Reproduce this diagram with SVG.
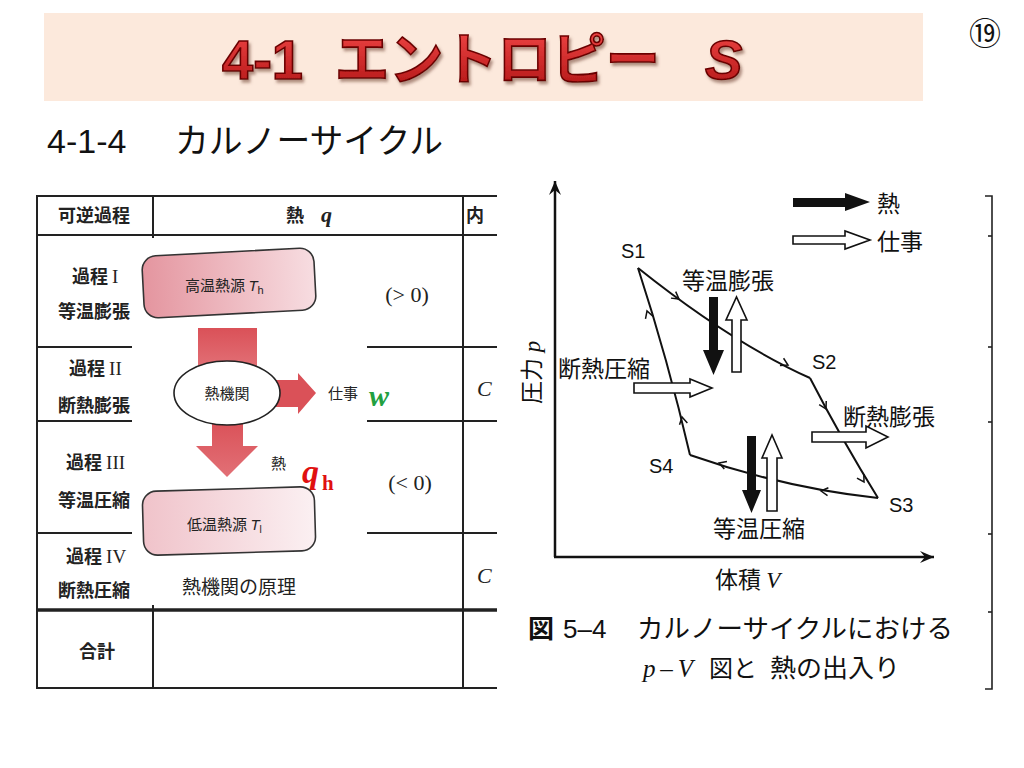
<svg xmlns="http://www.w3.org/2000/svg" xmlns:xlink="http://www.w3.org/1999/xlink" width="1024" height="768" viewBox="0 0 1024 768">
<style>
.jp{font-family:"Liberation Sans","Noto Sans CJK JP",sans-serif;}
.tb{font-family:"Noto Sans CJK JP",sans-serif;font-weight:bold;font-size:18px;fill:#222;}
.rm{font-family:"Liberation Serif",serif;font-size:22px;fill:#222;}
.ln{stroke:#222;stroke-width:2;fill:none;}
.he{font-family:"Noto Sans CJK JP",sans-serif;font-size:15px;fill:#222;}
.pv{font-family:"Noto Sans CJK JP",sans-serif;font-size:23px;fill:#111;}
.sl{font-family:"Liberation Sans",sans-serif;font-size:20px;fill:#111;}
.cyc{stroke:#111;stroke-width:2;fill:none;}
.chev{stroke:#111;stroke-width:1.5;fill:none;}
.blk{fill:#111;}
.wht{fill:#fff;stroke:#111;stroke-width:1.6;}
.ttl{font-family:"Liberation Sans","Noto Sans CJK JP",sans-serif;font-weight:bold;font-size:56px;fill:url(#tg);stroke:#6a0000;stroke-width:1.6;}
</style>
<defs>
<linearGradient id="tg" x1="0" y1="0" x2="0" y2="1">
<stop offset="0" stop-color="#F04545"/>
<stop offset="1" stop-color="#B01515"/>
</linearGradient>
<linearGradient id="hot" x1="0" y1="0" x2="1" y2="0">
<stop offset="0" stop-color="#E4959F"/>
<stop offset="1" stop-color="#F7DDE1"/>
</linearGradient>
<linearGradient id="cold" x1="0" y1="0" x2="1" y2="0">
<stop offset="0" stop-color="#F0C3CA"/>
<stop offset="1" stop-color="#FBF0F2"/>
</linearGradient>
<linearGradient id="flow" x1="0" y1="0" x2="0" y2="1">
<stop offset="0" stop-color="#DA5158"/>
<stop offset="1" stop-color="#E27076"/>
</linearGradient>
<filter id="sh" x="-10%" y="-10%" width="120%" height="130%">
<feDropShadow dx="2" dy="3" stdDeviation="1.5" flood-color="#7a5040" flood-opacity="0.6"/>
</filter>
<clipPath id="tclip"><rect x="0" y="180" width="497" height="520"/></clipPath>
<path id="chv" d="M-7,-4 L0,0 L-7,4"/>
<marker id="axh" viewBox="-14 -7 15 14" refX="0" refY="0" markerWidth="15" markerHeight="14" markerUnits="userSpaceOnUse" orient="auto">
<path d="M0,0 L-14,-6 L-9,0 L-14,6 Z" fill="#111"/>
</marker>
</defs>

<rect width="1024" height="768" fill="#fff"/>

<g id="title">
<rect x="44" y="13" width="879" height="88" fill="#FCE9DC"/>
<g filter="url(#sh)">
<text class="ttl" x="222" y="79">4-1</text>
<text class="ttl" x="335" y="79" textLength="325" lengthAdjust="spacingAndGlyphs">エントロピー</text>
<text class="ttl" x="705" y="79" font-style="italic">S</text>
</g>
</g>
<text id="page-num" x="969" y="45" font-family="Noto Sans CJK JP, sans-serif" font-size="32" fill="#111">⑲</text>

<g id="subtitle">
<text class="jp" x="47" y="153" font-size="34" fill="#111">4-1-4</text>
<text class="jp" x="175" y="153" font-size="34" fill="#111" textLength="268" lengthAdjust="spacingAndGlyphs">カルノーサイクル</text>
</g>

<g id="table" clip-path="url(#tclip)">
<g class="ln">
<line x1="37" y1="196" x2="500" y2="196"/>
<line x1="37" y1="195" x2="37" y2="689"/>
<line x1="37" y1="235" x2="500" y2="235"/>
<line x1="153" y1="196" x2="153" y2="238"/>
<line x1="153" y1="605" x2="153" y2="688"/>
<line x1="463" y1="196" x2="463" y2="688"/>
<line x1="37" y1="347" x2="132" y2="347"/><line x1="367" y1="347" x2="500" y2="347"/>
<line x1="37" y1="421" x2="132" y2="421"/><line x1="367" y1="421" x2="500" y2="421"/>
<line x1="37" y1="533" x2="132" y2="533"/><line x1="367" y1="533" x2="500" y2="533"/>
<line x1="37" y1="610" x2="500" y2="610" stroke-width="3.5"/>
<line x1="37" y1="688" x2="500" y2="688"/>
</g>
<text class="tb" x="58" y="222">可逆過程</text>
<text class="tb" x="286" y="222">熱</text>
<text class="rm" x="321" y="222" font-size="18" font-weight="bold" font-style="italic">q</text>
<text class="tb" x="466" y="222">内</text>
<text class="tb" x="72" y="283">過程 <tspan font-family="Liberation Serif, serif" font-weight="normal" font-size="19">I</tspan></text>
<text class="tb" x="58" y="318">等温膨張</text>
<text class="tb" x="69" y="375">過程 <tspan font-family="Liberation Serif, serif" font-weight="normal" font-size="19">II</tspan></text>
<text class="tb" x="58" y="412">断熱膨張</text>
<text class="tb" x="66" y="469">過程 <tspan font-family="Liberation Serif, serif" font-weight="normal" font-size="19">III</tspan></text>
<text class="tb" x="58" y="507">等温圧縮</text>
<text class="tb" x="66" y="563">過程 <tspan font-family="Liberation Serif, serif" font-weight="normal" font-size="19">IV</tspan></text>
<text class="tb" x="58" y="597">断熱圧縮</text>
<text class="tb" x="79" y="658">合計</text>
<text class="rm" x="407" y="302" text-anchor="middle">(&gt; 0)</text>
<text class="rm" x="410" y="490" text-anchor="middle">(&lt; 0)</text>
<text class="rm" x="477" y="396" font-style="italic" font-size="24">C</text>
<text class="rm" x="477" y="583" font-style="italic" font-size="24">C</text>
<rect x="133" y="239" width="233" height="366" fill="#fff"/>
</g>

<g id="heat-engine">
<g id="hot-source">
<rect x="143" y="252" width="172" height="62" rx="14" fill="url(#hot)" stroke="#333" stroke-width="1.6" transform="rotate(-3 229 283)"/>
<text class="he" x="185" y="291">高温熱源 <tspan font-family="Liberation Sans, sans-serif" font-style="italic">T</tspan><tspan font-family="Liberation Sans, sans-serif" font-size="11" dy="3">h</tspan></text>
</g>
<rect x="198" y="328" width="59" height="40" fill="url(#flow)"/>
<path d="M212,420 L243,420 L243,446 L258,446 L227,477 L196,446 L212,446 Z" fill="url(#flow)"/>
<path d="M272,380 L298,380 L298,373 L316,393 L298,414 L298,407 L272,407 Z" fill="#DA5158"/>
<g id="engine">
<ellipse cx="227" cy="393" rx="53" ry="32" fill="#fff" stroke="#222" stroke-width="1.6"/>
<text class="he" x="227" y="399" text-anchor="middle">熱機関</text>
</g>
<text class="he" x="328" y="399">仕事</text>
<text x="369" y="406" font-family="Liberation Serif, serif" font-style="italic" font-weight="bold" font-size="30" fill="#22A040">w</text>
<text class="he" x="271" y="469">熱</text>
<text x="302" y="483" font-family="Liberation Serif, serif" font-style="italic" font-weight="bold" font-size="34" fill="#E01010">q</text>
<text x="322" y="490" font-family="Liberation Serif, serif" font-weight="bold" font-size="21" fill="#E01010">h</text>
<g id="cold-source">
<rect x="143" y="489" width="172" height="64" rx="14" fill="url(#cold)" stroke="#333" stroke-width="1.6" transform="rotate(-1.7 229 521)"/>
<text class="he" x="187" y="530" font-size="14">低温熱源 <tspan font-family="Liberation Sans, sans-serif" font-style="italic">T</tspan><tspan font-family="Liberation Sans, sans-serif" font-size="10" dy="3">l</tspan></text>
</g>
<text x="182" y="594" font-family="Noto Sans CJK JP, sans-serif" font-size="19" fill="#222">熱機関の原理</text>
</g>

<g id="pv-diagram">
<g id="axes">
<line x1="555" y1="557" x2="555" y2="181" stroke="#111" stroke-width="2.5" marker-end="url(#axh)"/>
<line x1="554" y1="557" x2="934" y2="557" stroke="#111" stroke-width="2.5" marker-end="url(#axh)"/>
<text class="pv" transform="translate(540 404) rotate(-90)" font-size="22">圧力<tspan font-family="Liberation Serif, serif" font-style="italic"> p</tspan></text>
<text class="pv" x="715" y="588" font-size="22">体積 <tspan font-family="Liberation Serif, serif" font-style="italic">V</tspan></text>
</g>
<g id="legend">
<path class="blk" d="M793,198 L845,198 L845,193 L870,202 L845,211 L845,207 L793,207 Z"/>
<text class="pv" x="877" y="212">熱</text>
<path class="wht" d="M793,236 L845,236 L845,231 L870,240 L845,249 L845,244 L793,244 Z"/>
<text class="pv" x="877" y="250">仕事</text>
</g>
<g id="S1"><text class="sl" x="621" y="258">S1</text></g>
<g id="S2"><text class="sl" x="812" y="369">S2</text></g>
<g id="S3"><text class="sl" x="889" y="512">S3</text></g>
<g id="S4"><text class="sl" x="649" y="473">S4</text></g>
<g id="connectors">
<path class="cyc" d="M638,268 Q732,343 810,378"/>
<path class="cyc" d="M810,378 Q842,440 878,498"/>
<path class="cyc" d="M878,498 Q784,488 690,455"/>
<path class="cyc" d="M690,455 Q668,360 638,268"/>
<use xlink:href="#chv" class="chev" transform="translate(679,299) rotate(36)"/>
<use xlink:href="#chv" class="chev" transform="translate(788,365) rotate(27)"/>
<use xlink:href="#chv" class="chev" transform="translate(826,409) rotate(62)"/>
<use xlink:href="#chv" class="chev" transform="translate(864,482) rotate(59)"/>
<use xlink:href="#chv" class="chev" transform="translate(821,491) rotate(186)"/>
<use xlink:href="#chv" class="chev" transform="translate(719,463) rotate(199)"/>
<use xlink:href="#chv" class="chev" transform="translate(682,417) rotate(258)"/>
<use xlink:href="#chv" class="chev" transform="translate(647,311) rotate(251)"/>
</g>
<g id="isothermal-expansion">
<text class="pv" x="682" y="289">等温膨張</text>
<path class="blk" d="M709,297 L718,297 L718,350 L724,350 L713.5,375 L703,350 L709,350 Z"/>
<path class="wht" d="M732,372 L741,372 L741,320 L747,320 L736.5,297 L726,320 L732,320 Z"/>
</g>
<g id="adiabatic-compression">
<text class="pv" x="558" y="377">断熱圧縮</text>
<path class="wht" d="M634,383 L690,383 L690,379 L712,388 L690,397 L690,393 L634,393 Z"/>
</g>
<g id="adiabatic-expansion">
<text class="pv" x="843" y="425">断熱膨張</text>
<path class="wht" d="M812,432 L866,432 L866,426 L888,437 L866,448 L866,442 L812,442 Z"/>
</g>
<g id="isothermal-compression">
<path class="blk" d="M747,436 L756,436 L756,490 L761,490 L751.5,513 L742,490 L747,490 Z"/>
<path class="wht" d="M767,511 L777,511 L777,458 L782,458 L772,435 L762,458 L767,458 Z"/>
<text class="pv" x="713" y="537">等温圧縮</text>
</g>
<g id="bracket" stroke="#222" stroke-width="1.6" fill="none">
<polyline points="985,196 992,196 992,689 985,689"/>
<line x1="988" y1="236" x2="992" y2="236"/>
<line x1="988" y1="347" x2="992" y2="347"/>
<line x1="988" y1="422" x2="992" y2="422"/>
<line x1="988" y1="534" x2="992" y2="534"/>
<line x1="988" y1="612" x2="992" y2="612"/>
</g>
<g id="caption">
<text x="528" y="638" font-family="Noto Sans CJK JP, sans-serif" font-weight="bold" font-size="26" fill="#111">図</text>
<text x="563" y="638" font-family="Liberation Sans, sans-serif" font-size="26" fill="#111">5–4</text>
<text x="637" y="638" font-family="Noto Sans CJK JP, sans-serif" font-size="26" fill="#111" textLength="316" lengthAdjust="spacingAndGlyphs">カルノーサイクルにおける</text>
<text x="643" y="677" font-family="Liberation Serif, serif" font-style="italic" font-size="25" fill="#111" textLength="50" lengthAdjust="spacing">p–V</text>
<text x="709" y="677" font-family="Noto Sans CJK JP, sans-serif" font-size="24" fill="#111">図と</text>
<text x="770" y="677" font-family="Noto Sans CJK JP, sans-serif" font-size="25" fill="#111" textLength="130" lengthAdjust="spacingAndGlyphs">熱の出入り</text>
</g>
</g>
</svg>
